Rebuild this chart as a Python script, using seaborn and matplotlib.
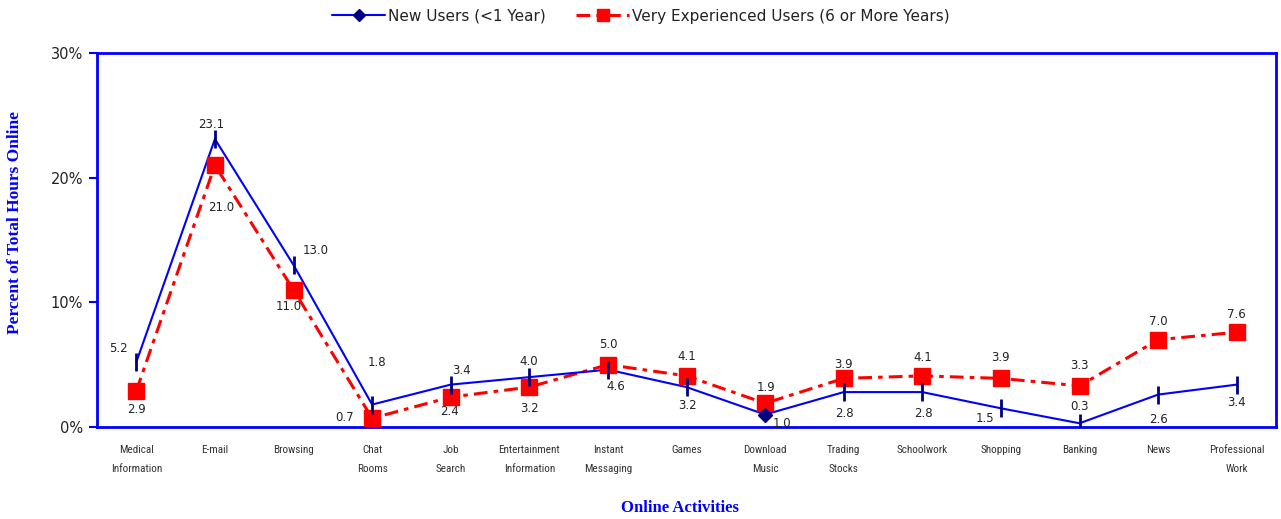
import numpy as np
import pandas as pd
import seaborn as sns
import matplotlib.pyplot as plt
from matplotlib import font_manager
from matplotlib.lines import Line2D

activities = ['Medical\nInformation', 'E-mail', 'Browsing', 'Chat\nRooms', 'Job\nSearch',
              'Entertainment\nInformation', 'Instant\nMessaging', 'Games', 'Download\nMusic',
              'Trading\nStocks', 'Schoolwork', 'Shopping', 'Banking', 'News', 'Professional\nWork']
new_users = [5.2, 23.1, 13.0, 1.8, 3.4, 4.0, 4.6, 3.2, 1.0, 2.8, 2.8, 1.5, 0.3, 2.6, 3.4]
exp_users = [2.9, 21.0, 11.0, 0.7, 2.4, 3.2, 5.0, 4.1, 1.9, 3.9, 4.1, 3.9, 3.3, 7.0, 7.6]
new_name = 'New Users (<1 Year)'
exp_name = 'Very Experienced Users (6 or More Years)'

# label offsets in pixels (dx, dy)
new_off = [(-18, 14), (-4, 15), (22, 14), (5, 42), (11, 14), (-1, 16), (8, -17), (1, -18),
           (17, -9), (1, -21), (1, -21), (-16, -10), (0, 17), (0, -25), (0, -18)]
exp_off = [(0, -19), (6, -42), (-5, -17), (-28, 1), (-1, -14), (0, -21), (0, 20), (0, 19),
           (1, 16), (0, 14), (0, 18), (0, 21), (0, 20), (0, 18), (0, 18)]

df = pd.DataFrame({'x': np.arange(len(activities)), 'new': new_users, 'exp': exp_users})

sns.set_style('white')
plt.rcParams['font.family'] = ['DejaVu Sans']

installed = {f.name for f in font_manager.fontManager.ttflist}
narrow = next(f for f in ['Liberation Sans Narrow', 'Roboto Condensed', 'Liberation Sans', 'DejaVu Sans']
              if f in installed)

fig = plt.figure(figsize=(12.81, 5.19), dpi=100)
ax = fig.add_axes([97 / 1281, 1 - 427 / 519, 1179 / 1281, 374 / 519])

sns.lineplot(data=df, x='x', y='exp', ax=ax, color='#ff0000', lw=2.2, zorder=2)
ax.lines[-1].set_linestyle((0, (4.5, 2, 1.5, 2)))
sns.lineplot(data=df, x='x', y='new', ax=ax, color='#0000ff', lw=1.5, zorder=3)

for i, (x, y) in enumerate(zip(df['x'], df['new'])):
    if i == 8:
        ax.plot(x, y, marker='D', ms=7, color='#000080', zorder=5)
    else:
        ax.plot(x, y, marker='|', ms=13, mew=2, color='#000080', zorder=5)
ax.plot(df['x'], df['exp'], ls='none', marker='s', ms=12, color='#ff0000', zorder=4)

for i in range(len(activities)):
    ax.annotate(f'{new_users[i]:.1f}', (i, new_users[i]), xytext=new_off[i],
                textcoords='offset pixels', ha='center', va='center', fontsize=8.5, color='#222222')
    ax.annotate(f'{exp_users[i]:.1f}', (i, exp_users[i]), xytext=exp_off[i],
                textcoords='offset pixels', ha='center', va='center', fontsize=8.5, color='#222222')

ax.set_xlim(-0.5, len(activities) - 0.5)
ax.set_ylim(0, 30)
ax.set_yticks([0, 10, 20, 30])
ax.set_yticklabels(['0%', '10%', '20%', '30%'], fontsize=10.5, color='#222222')
ax.set_xticks(np.arange(len(activities)))
ax.set_xticklabels(activities, family=[narrow, 'DejaVu Sans'],
                   fontsize=8, color='#333333', linespacing=2.1)
ax.set_xticks(np.arange(-0.5, len(activities)), minor=True)
ax.tick_params(axis='x', which='major', length=0, pad=13)
ax.tick_params(axis='x', which='minor', length=6, width=1.5, color='#0000ff', direction='out')
ax.tick_params(axis='y', length=6, width=1.5, color='#0000ff', direction='out', left=True, pad=4)

for s in ax.spines.values():
    s.set_color('#0000ff')
    s.set_linewidth(2)

ax.set_xlabel('Online Activities', family=['Liberation Serif', 'DejaVu Serif'], fontweight='bold',
              fontsize=12, color='#0000ff')
ax.set_ylabel('Percent of Total Hours Online', family=['Liberation Serif', 'DejaVu Serif'],
              fontweight='bold', fontsize=12.5, color='#0000ff')
ax.xaxis.set_label_coords(583 / 1179, -81 / 374)
ax.yaxis.set_label_coords(-82 / 1179, 205 / 374)
ax.xaxis.label.set_va('center')
ax.yaxis.label.set_va('center')

handles = [Line2D([], [], color='#0000ff', lw=1.5, marker='D', ms=6, mfc='#000080', mec='#000080'),
           Line2D([], [], color='#ff0000', lw=2.2, ls=(0, (4.5, 2, 1.5, 2)), marker='s', ms=9)]
fig.legend(handles, [new_name, exp_name], loc='center', bbox_to_anchor=(0.5, 1 - 16 / 519),
           ncol=2, frameon=False, fontsize=11, columnspacing=2.0, handlelength=3.5,
           handletextpad=0.15, labelcolor='#222222')

fig.savefig('out.png', dpi=100)
